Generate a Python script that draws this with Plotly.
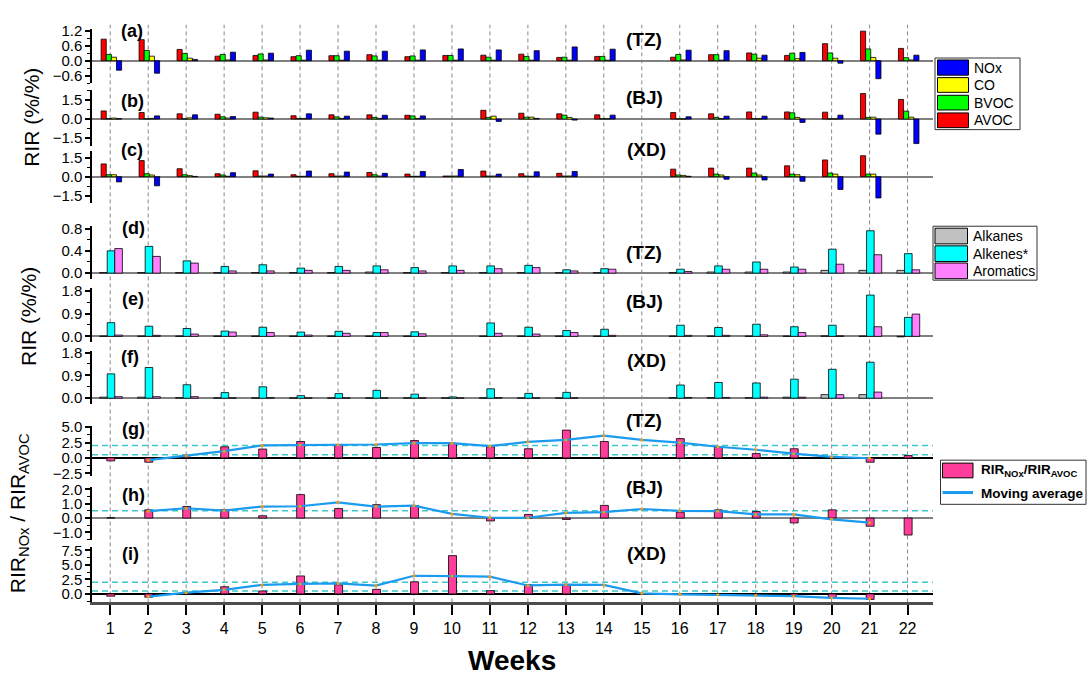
import plotly.graph_objects as go

W, H = 1088, 681
FONT = "Liberation Sans, Arial, sans-serif"

weeks = list(range(1, 23))
week_labels = [str(w) for w in weeks]

# ---- (a) TZ RIR of precursor groups ----
tz_avoc = [0.86, 0.84, 0.45, 0.18, 0.21, 0.16, 0.20, 0.24, 0.16, 0.21, 0.22, 0.26, 0.13, 0.17, None, 0.14, 0.24, 0.31, 0.21, 0.68, 1.18, 0.49]
tz_bvoc = [0.25, 0.41, 0.29, 0.25, 0.27, 0.20, 0.20, 0.19, 0.19, 0.21, 0.14, 0.17, 0.14, 0.17, None, 0.25, 0.24, 0.26, 0.30, 0.31, 0.47, 0.12]
tz_co = [0.14, 0.18, 0.10, 0.03, 0.03, 0.02, 0.02, 0.02, 0.02, 0.02, 0.02, 0.02, 0.02, 0.02, None, 0.03, 0.02, 0.10, 0.08, 0.10, 0.13, 0.03]
tz_nox = [-0.38, -0.50, 0.05, 0.34, 0.30, 0.42, 0.38, 0.38, 0.43, 0.47, 0.43, 0.40, 0.55, 0.46, None, 0.42, 0.40, 0.22, 0.33, -0.10, -0.72, 0.22]

# ---- (b) BJ ----
bj_avoc = [0.64, 0.51, 0.41, 0.38, 0.54, 0.26, 0.33, 0.33, 0.30, None, 0.69, 0.46, 0.41, 0.33, None, 0.51, 0.41, 0.56, 0.56, 0.54, 2.00, 1.54]
bj_bvoc = [0.03, 0.02, 0.02, 0.18, 0.15, 0.05, 0.17, 0.13, 0.25, None, 0.13, 0.15, 0.31, 0.03, None, 0.02, 0.13, 0.03, 0.49, 0.02, 0.13, 0.62]
bj_co = [0.08, 0.05, 0.10, 0.08, 0.10, 0.05, 0.05, 0.05, 0.05, None, 0.23, 0.15, 0.13, 0.03, None, 0.02, 0.03, 0.03, 0.13, 0.02, 0.15, 0.15]
bj_nox = [0.03, 0.25, 0.33, 0.20, 0.08, 0.41, 0.23, 0.30, 0.25, None, -0.18, 0.05, -0.08, 0.31, None, 0.18, 0.23, 0.23, -0.26, 0.31, -1.18, -1.92]

# ---- (c) XD ----
xd_avoc = [1.00, 1.26, 0.62, 0.23, 0.46, 0.15, 0.23, 0.33, 0.20, 0.05, 0.44, 0.23, 0.26, None, None, 0.59, 0.67, 0.67, 0.85, 1.31, 1.64, None]
xd_bvoc = [0.15, 0.23, 0.15, 0.13, 0.05, 0.03, 0.05, 0.15, 0.03, 0.05, 0.05, 0.05, 0.05, None, None, 0.13, 0.20, 0.28, 0.20, 0.28, 0.20, None]
xd_co = [0.15, 0.13, 0.08, 0.03, 0.05, 0.03, 0.05, 0.05, 0.03, 0.05, 0.05, 0.03, 0.05, None, None, 0.10, 0.13, 0.13, 0.15, 0.20, 0.20, None]
xd_nox = [-0.41, -0.72, 0.02, 0.31, 0.20, 0.44, 0.36, 0.26, 0.41, 0.56, 0.20, 0.38, 0.41, None, None, 0.03, -0.20, -0.26, -0.36, -1.00, -1.67, None]

# ---- (d) TZ AVOC sub-groups ----
tz_alkanes = [0.01, 0.01, 0.01, 0.01, 0.01, 0.01, 0.01, 0.02, 0.01, 0.01, 0.01, 0.01, 0.01, 0.01, None, 0.01, 0.02, 0.02, 0.02, 0.05, 0.05, 0.05]
tz_alkenes = [0.40, 0.48, 0.22, 0.12, 0.15, 0.09, 0.12, 0.13, 0.10, 0.13, 0.13, 0.14, 0.06, 0.08, None, 0.07, 0.13, 0.20, 0.11, 0.43, 0.76, 0.35]
tz_arom = [0.44, 0.30, 0.18, 0.04, 0.04, 0.05, 0.05, 0.06, 0.04, 0.05, 0.08, 0.10, 0.04, 0.07, None, 0.03, 0.07, 0.07, 0.07, 0.16, 0.33, 0.06]

# ---- (e) BJ ----
bj_alkanes = [0.01, 0.01, 0.01, 0.01, 0.01, 0.01, 0.01, 0.01, 0.01, None, 0.01, 0.01, 0.01, 0.01, None, 0.01, 0.01, 0.01, 0.01, 0.02, 0.01, -0.02]
bj_alkenes = [0.54, 0.40, 0.31, 0.21, 0.36, 0.17, 0.20, 0.15, 0.18, None, 0.53, 0.36, 0.23, 0.28, None, 0.44, 0.35, 0.48, 0.38, 0.44, 1.63, 0.75]
bj_arom = [0.05, 0.04, 0.09, 0.17, 0.15, 0.05, 0.12, 0.15, 0.10, None, 0.12, 0.09, 0.15, 0.04, None, 0.04, 0.04, 0.06, 0.15, 0.02, 0.38, 0.88]

# ---- (f) XD ----
xd_alkanes = [0.04, 0.04, 0.02, 0.01, 0.01, 0.01, 0.01, 0.01, 0.01, 0.01, 0.01, 0.01, 0.01, None, None, 0.02, 0.02, 0.02, 0.04, 0.14, 0.14, None]
xd_alkenes = [0.96, 1.21, 0.53, 0.22, 0.45, 0.10, 0.18, 0.31, 0.16, 0.05, 0.37, 0.19, 0.23, None, None, 0.52, 0.62, 0.60, 0.75, 1.14, 1.42, None]
xd_arom = [0.06, 0.06, 0.06, 0.01, 0.02, 0.01, 0.01, 0.01, 0.01, 0.01, 0.02, 0.01, 0.01, None, None, 0.03, 0.03, 0.04, 0.04, 0.14, 0.24, None]

# ---- (g)-(i) RIR_NOx / RIR_AVOC and moving averages ----
tz_ratio = [-0.48, -0.70, 0.15, 1.81, 1.44, 2.66, 2.18, 1.70, 2.82, 2.34, 1.81, 1.49, 4.52, 2.66, None, 3.14, 1.76, 0.70, 1.49, 0.05, -0.70, 0.38]
tz_ma = [None, -0.37, 0.35, 1.10, 2.03, 2.08, 2.13, 2.18, 2.40, 2.40, 1.91, 2.60, 2.92, 3.62, 2.92, 2.50, 1.81, 1.33, 0.69, 0.16, -0.05, None]

bj_ratio = [0.02, 0.57, 0.80, 0.59, 0.16, 1.63, 0.66, 0.93, 0.86, None, -0.20, 0.25, -0.10, 0.88, None, 0.41, 0.57, 0.45, -0.34, 0.57, -0.57, -1.18]
bj_ma = [None, 0.48, 0.68, 0.52, 0.80, 0.82, 1.09, 0.80, 0.86, 0.29, 0.02, 0.02, 0.36, 0.41, 0.63, 0.50, 0.48, 0.25, 0.25, -0.09, -0.32, None]

xd_ratio = [-0.40, -0.57, 0.05, 1.23, 0.50, 3.09, 1.57, 0.78, 2.08, 6.59, 0.56, 1.62, 1.62, None, None, -0.08, -0.10, -0.12, -0.30, -0.68, -0.96, None]
xd_ma = [None, -0.46, 0.20, 0.70, 1.55, 1.72, 1.80, 1.43, 3.12, 3.07, 2.96, 1.45, 1.60, 1.55, 0.10, -0.07, -0.17, -0.24, -0.40, -0.68, -0.84, None]

thresholds_g = [2.0, 0.5]
thresholds_h = [0.5]
thresholds_i = [2.0, 0.5]

panel_letters = ["(a)", "(b)", "(c)", "(d)", "(e)", "(f)", "(g)", "(h)", "(i)"]
site_labels = ["(TZ)", "(BJ)", "(XD)", "(TZ)", "(BJ)", "(XD)", "(TZ)", "(BJ)", "(XD)"]
legend1_names = ["NOx", "CO", "BVOC", "AVOC"]
legend2_names = ["Alkanes", "Alkenes*", "Aromatics"]

# ---------------- styling ----------------
C_AVOC, C_BVOC, C_CO, C_NOX = "#FF0000", "#00FF00", "#FFFF00", "#0000FF"
C_ALKA, C_ALKE, C_AROM = "#C0C0C0", "#00FFFF", "#FF80FF"
C_RATIO = "#FF3D9A"
C_MA = "#1A9BF0"
C_THR = "#3CC8C8"


def px(x):
    return x / W


def py(y):
    return 1 - y / H


# panel pixel extents (top, bottom), y ranges, tick steps, zero line colour
panels = [
    (22.7, 77.7, [-0.90, 1.255], 0.6, 0.3, "#808080", 2),
    (85.0, 141.7, [-2.11, 2.25], 1.5, 0.75, "#808080", 2),
    (146.7, 200.0, [-2.08, 2.02], 1.5, 0.75, "#808080", 2),
    (223.0, 277.0, [-0.10, 0.85], 0.4, 0.2, "#808080", 2),
    (286.7, 341.7, [-0.23, 1.90], 0.9, 0.45, "#808080", 2),
    (351.0, 405.0, [-0.24, 1.85], 0.9, 0.45, "#808080", 2),
    (426.7, 478.0, [-2.92, 5.26], 2.5, 1.25, "#000000", 1.5),
    (489.3, 543.3, [-1.52, 2.16], 1.0, 0.5, "#808080", 2),
    (550.0, 607.0, [-1.47, 8.16], 2.5, 1.25, "#000000", 1.5),
]
XRANGE = [0.52, 22.67]
XDOM = [px(92), px(933)]

fig = go.Figure()


def ax(k):
    return ("x" if k == 1 else f"x{k}"), ("y" if k == 1 else f"y{k}")


def add_bar(k, vals, color, width, offset):
    xa, ya = ax(k)
    fig.add_trace(go.Bar(
        x=weeks, y=vals, width=width, offset=offset,
        marker=dict(color=color, line=dict(color="black", width=0.8)),
        xaxis=xa, yaxis=ya, showlegend=False, hoverinfo="x+y"))


def add_ma(k, vals):
    xa, ya = ax(k)
    fig.add_trace(go.Scatter(
        x=weeks, y=vals, mode="lines+markers",
        line=dict(color=C_MA, width=2.2),
        marker=dict(color="#FF9A00", size=3),
        xaxis=xa, yaxis=ya, showlegend=False))


# panels a-c
bw4 = 0.135
offs4 = [-0.24, -0.105, 0.03, 0.165]
for k, series in [(1, (tz_avoc, tz_bvoc, tz_co, tz_nox)),
                  (2, (bj_avoc, bj_bvoc, bj_co, bj_nox)),
                  (3, (xd_avoc, xd_bvoc, xd_co, xd_nox))]:
    for vals, col, off in zip(series, (C_AVOC, C_BVOC, C_CO, C_NOX), offs4):
        add_bar(k, vals, col, bw4, off)

# panels d-f
bw3 = 0.2
offs3 = [-0.28, -0.08, 0.12]
for k, series in [(4, (tz_alkanes, tz_alkenes, tz_arom)),
                  (5, (bj_alkanes, bj_alkenes, bj_arom)),
                  (6, (xd_alkanes, xd_alkenes, xd_arom))]:
    for vals, col, off in zip(series, (C_ALKA, C_ALKE, C_AROM), offs3):
        add_bar(k, vals, col, bw3, off)

# panels g-i
for k, rat, ma in [(7, tz_ratio, tz_ma), (8, bj_ratio, bj_ma), (9, xd_ratio, xd_ma)]:
    add_bar(k, rat, C_RATIO, 0.21, -0.09)
    add_ma(k, ma)

layout = dict(
    width=W, height=H,
    margin=dict(l=0, r=0, t=0, b=0),
    paper_bgcolor="white", plot_bgcolor="rgba(0,0,0,0)",
    barmode="overlay",
    font=dict(family=FONT, color="black"),
    showlegend=False,
)

for k, (top, bot, yr, dt, mdt, zc, zw) in enumerate(panels, start=1):
    xkey = "xaxis" if k == 1 else f"xaxis{k}"
    ykey = "yaxis" if k == 1 else f"yaxis{k}"
    xa, ya = ax(k)
    xaxis = dict(domain=XDOM, range=XRANGE, anchor=ya, showgrid=False,
                 zeroline=False, fixedrange=True)
    if k == 9:
        xaxis.update(showline=True, linecolor="#4d4d4d", linewidth=2.5,
                     ticks="outside", ticklen=10, tickwidth=1.5, tickcolor="black",
                     tickmode="array", tickvals=weeks, ticktext=week_labels,
                     tickfont=dict(size=16, family=FONT, color="black"))
    else:
        xaxis.update(showline=False, ticks="", showticklabels=False)
    if k > 1:
        xaxis["matches"] = "x"
    layout[xkey] = xaxis
    layout[ykey] = dict(
        domain=[py(bot), py(top)], range=yr, anchor=xa,
        showgrid=False, showline=True, linecolor="black", linewidth=1.5,
        ticks="outside", ticklen=5, tickwidth=1.5, tickcolor="black",
        tick0=0, dtick=dt, tickformat=".1f",
        minor=dict(ticks="outside", ticklen=3, tickwidth=1.2, tickcolor="black", dtick=mdt, tick0=0),
        tickfont=dict(size=15, family=FONT, color="black"),
        zeroline=True, zerolinecolor=zc, zerolinewidth=zw, fixedrange=True)

fig.update_layout(**layout)

shapes = []
# vertical dashed week lines across all panels
for w in weeks:
    shapes.append(dict(type="line", xref="x", yref="paper", x0=w, x1=w,
                       y0=py(607), y1=py(18), layer="below",
                       line=dict(color="#8a8a8a", width=1, dash="4px,3px")))
# cyan threshold lines
for k, ths in [(7, thresholds_g), (8, thresholds_h), (9, thresholds_i)]:
    xa, ya = ax(k)
    for t in ths:
        shapes.append(dict(type="line", xref=f"{xa} domain", yref=ya, x0=0, x1=1,
                           y0=t, y1=t, layer="below",
                           line=dict(color=C_THR, width=1.5, dash="6px,4px")))

annotations = []


def text(x, y, s, size, bold=False, xanchor="center", angle=0):
    annotations.append(dict(
        xref="paper", yref="paper", x=px(x), y=py(y), text=(f"<b>{s}</b>" if bold else s),
        showarrow=False, xanchor=xanchor, yanchor="middle", textangle=angle,
        font=dict(family=FONT, size=size, color="black")))


# panel letters and site labels
letter_pos = [(132, 24), (132, 96), (132, 146), (133, 225), (133, 298), (130, 357),
              (133, 430), (133, 498), (130, 558)]
site_pos = [(644, 33), (644, 92), (646, 145), (644, 250), (644, 300), (646, 360),
            (644, 422), (644, 490), (646, 557)]
for s, (x, y) in zip(panel_letters, letter_pos):
    text(x, y, s, 18, bold=True)
for s, (x, y) in zip(site_labels, site_pos):
    text(x, y, s, 19, bold=True)

# axis titles
text(32, 113, "RIR (%/%)", 21, angle=-90)
text(29, 316, "RIR (%/%)", 21, angle=-90)
text(19, 516, "RIR<sub>NOx</sub> / RIR<sub>AVOC</sub>", 21, angle=-90)
text(512, 666, "Weeks", 28, bold=True)


def box(x0, y0, x1, y1, fill, lw=1, lc="black"):
    shapes.append(dict(type="rect", xref="paper", yref="paper",
                       x0=px(x0), x1=px(x1), y0=py(y1), y1=py(y0),
                       fillcolor=fill, line=dict(color=lc, width=lw), layer="above"))


# legend 1
box(935, 52, 1020, 125, "white", 1, "#333333")
for name, col, (y0, y1) in zip(legend1_names, (C_NOX, C_CO, C_BVOC, C_AVOC),
                               [(54, 69.5), (72, 87), (90, 105), (108, 123)]):
    box(937.5, y0, 968.5, y1, col, 1)
    text(972, (y0 + y1) / 2, name, 14, xanchor="left")

# legend 2
box(933, 223.5, 1037, 278.5, "white", 1, "#333333")
for name, col, (y0, y1) in zip(legend2_names, (C_ALKA, C_ALKE, C_AROM),
                               [(225.5, 241.5), (243.5, 259.5), (261, 277)]):
    box(935, y0, 967.5, y1, col, 1)
    text(971, (y0 + y1) / 2, name, 14, xanchor="left")

# legend 3
box(940.5, 462, 1086, 507, "white", 1, "#333333")
box(942.5, 465, 973, 480, C_RATIO, 1)
text(979, 473, "RIR<sub>NOx</sub>/RIR<sub>AVOC</sub>", 13.5, bold=True, xanchor="left")
shapes.append(dict(type="line", xref="paper", yref="paper", x0=px(942.5), x1=px(973),
                   y0=py(495), y1=py(495), layer="above", line=dict(color=C_MA, width=3)))
text(979, 496, "Moving average", 13.5, bold=True, xanchor="left")

fig.update_layout(shapes=shapes, annotations=annotations)
fig.write_html("out.html")
